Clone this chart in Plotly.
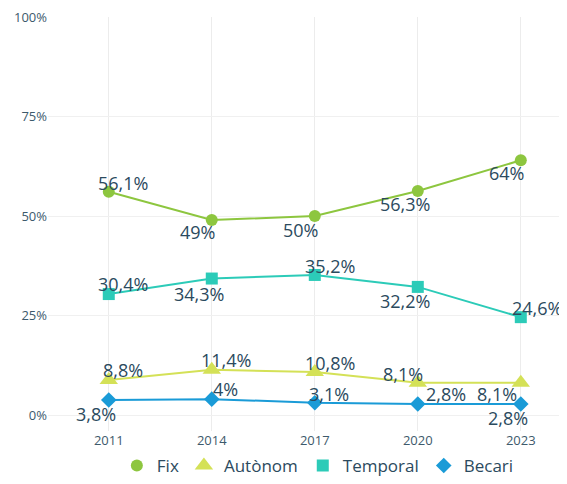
import plotly.graph_objects as go

years = ["2011", "2014", "2017", "2020", "2023"]
fix = [56.1, 49, 50, 56.3, 64]
autonom = [8.8, 11.4, 10.8, 8.1, 8.1]
temporal = [30.4, 34.3, 35.2, 32.2, 24.6]
becari = [3.8, 4, 3.1, 2.8, 2.8]
y_ticks = [0, 25, 50, 75, 100]
y_tick_labels = ["0%", "25%", "50%", "75%", "100%"]

series = [
    ("Fix", fix, "#8dc63f", "circle", 12),
    ("Autònom", autonom, "#d4e157", "triangle-up", 16),
    ("Temporal", temporal, "#2ccbb8", "square", 12),
    ("Becari", becari, "#1a9bd7", "diamond", 12),
]

# label offsets in pixels (styling)
shifts = {
    "Fix": [(14, 9), (-14, -12), (-14, -14), (-13, -13), (-14, -13)],
    "Autònom": [(14, 10), (14, 10), (15, 9), (-15, 9), (-24, -11)],
    "Temporal": [(14, 10), (-13, -15), (15, 9), (-13, -14), (16, 9)],
    "Becari": [(-13, -14), (14, 10), (14, 9), (28, 10), (-13, -14)],
}

def fmt(v):
    s = ("%.1f" % v).rstrip("0").rstrip(".")
    return s.replace(".", ",") + "%"

fig = go.Figure()
annotations = []
for name, vals, color, sym, size in series:
    fig.add_trace(go.Scatter(
        x=years, y=vals, name=name, mode="lines+markers", showlegend=False,
        line=dict(color=color, width=2),
        marker=dict(color=color, symbol=sym, size=size),
    ))
    for i, v in enumerate(vals):
        dx, dy = shifts[name][i]
        annotations.append(dict(
            x=i, y=v, xref="x", yref="y", text=fmt(v), showarrow=False,
            xshift=dx, yshift=dy,
            font=dict(size=18, color="#2b4a5e", family="Open Sans"),
        ))
for name, vals, color, sym, size in series:
    fig.add_trace(go.Scatter(
        x=[None], y=[None], name=name, mode="markers",
        marker=dict(color=color, symbol=sym, size=size),
    ))

fig.update_layout(
    width=559, height=476,
    margin=dict(l=40, r=5, t=9, b=53, autoexpand=False),
    paper_bgcolor="white", plot_bgcolor="white",
    font=dict(family="Open Sans", color="#3d5a6c"),
    annotations=annotations,
    legend=dict(orientation="h", x=0.525, xanchor="center", yref="container", y=-0.02, yanchor="bottom",
                font=dict(size=17, color="#2b4a5e"), itemwidth=30),
    xaxis=dict(type="category", range=[-0.59, 4.4], showgrid=True, gridcolor="#ececec",
               zeroline=False, showline=False, ticks="", tickfont=dict(size=13, color="#3d5a6c")),
    yaxis=dict(range=[-4, 100], tickvals=y_ticks, ticktext=y_tick_labels, showgrid=True,
               gridcolor="#f0f0f0", zeroline=False, showline=False, ticklabeloverflow="allow",
               tickfont=dict(size=13, color="#3d5a6c")),
)

fig.write_html("out.html")
